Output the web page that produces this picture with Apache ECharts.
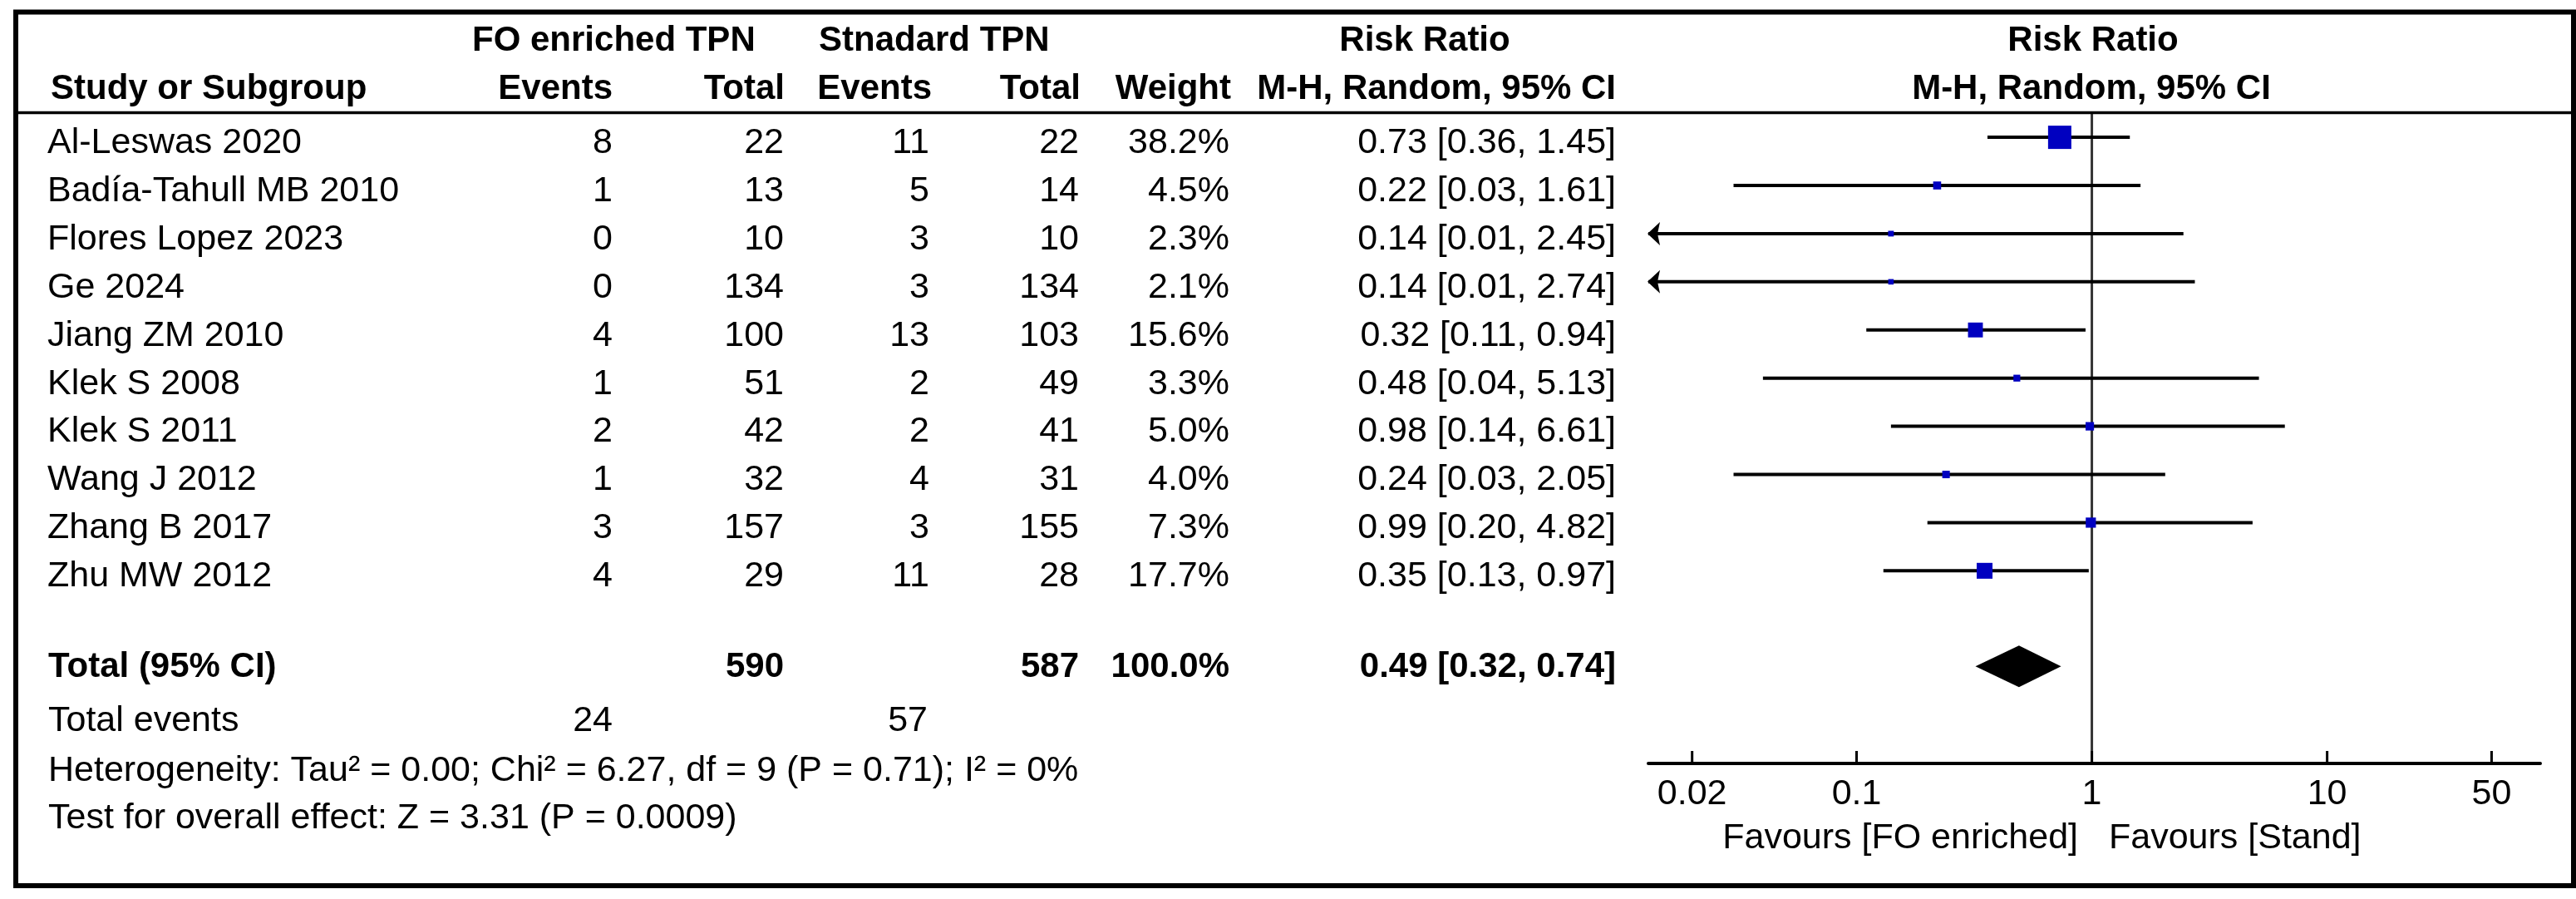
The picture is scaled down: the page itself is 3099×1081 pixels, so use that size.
<!DOCTYPE html>
<html><head><meta charset="utf-8">
<script src="https://cdn.jsdelivr.net/npm/echarts@6/dist/echarts.min.js"></script>
<style>html,body{margin:0;padding:0;background:#fff}#c{width:3099px;height:1081px}</style>
</head><body><div id="c"></div>
<script>
// ---- data ----
const studies = ['Al-Leswas 2020', 'Badía-Tahull MB 2010', 'Flores Lopez 2023', 'Ge 2024', 'Jiang ZM 2010', 'Klek S 2008', 'Klek S 2011', 'Wang J 2012', 'Zhang B 2017', 'Zhu MW 2012'];
const foEvents = [8, 1, 0, 0, 4, 1, 2, 1, 3, 4];
const foTotal = [22, 13, 10, 134, 100, 51, 42, 32, 157, 29];
const stdEvents = [11, 5, 3, 3, 13, 2, 2, 4, 3, 11];
const stdTotal = [22, 14, 10, 134, 103, 49, 41, 31, 155, 28];
const weights = [38.2, 4.5, 2.3, 2.1, 15.6, 3.3, 5.0, 4.0, 7.3, 17.7];
const riskRatio = [0.73, 0.22, 0.14, 0.14, 0.32, 0.48, 0.98, 0.24, 0.99, 0.35];
const ciLow = [0.36, 0.03, 0.01, 0.01, 0.11, 0.04, 0.14, 0.03, 0.20, 0.13];
const ciHigh = [1.45, 1.61, 2.45, 2.74, 0.94, 5.13, 6.61, 2.05, 4.82, 0.97];
const totalRR = [0.49, 0.32, 0.74];
const totalN = [590, 587];
const totalEvents = [24, 57];
const totalWeight = [100.0];
const xTicks = [0.02, 0.1, 1, 10, 50];
const xTickLabels = ['0.02', '0.1', '1', '10', '50'];

// ---- styling / layout ----
const FONT = '"Liberation Sans", Arial, Helvetica, sans-serif';
const FS = 43;
const FSB = 42;
const AX_MIN = 0.01303, AX_MAX = 80.5;
const COL = { study: 57, foEv: 737, foTot: 943, stEv: 1118, stTot: 1298, wt: 1479, ci: 1944 };

function txt(x, y, s, align, bold) {
  return { type: 'text', silent: true, style: {
    x: x, y: y, text: s, fill: '#000', fontSize: bold ? FSB : FS, fontFamily: FONT,
    fontWeight: bold ? 'bold' : 'normal', align: align, verticalAlign: 'middle',
    textAlign: align, textVerticalAlign: 'middle' } };
}
const f2 = v => v.toFixed(2);

const chart = echarts.init(document.getElementById('c'), null, { renderer: 'canvas', width: 3099, height: 1081 });

const rowData = studies.map((s, i) => [riskRatio[i], i, ciLow[i], ciHigh[i], weights[i]]);

const option = {
  animation: false,
  backgroundColor: '#fff',
  grid: { left: 1983, top: 135, width: 1073, height: 783, containLabel: false },
  xAxis: {
    type: 'log', logBase: 10, min: AX_MIN, max: AX_MAX,
    axisLine: { show: true, onZero: false, lineStyle: { color: '#000', width: 4 } },
    axisTick: { show: false }, axisLabel: { show: false }, splitLine: { show: false }
  },
  yAxis: { type: 'value', inverse: true, min: -0.52, max: 13, show: false },
  series: [
    { // reference line at RR = 1
      type: 'custom', coordinateSystem: 'cartesian2d', silent: true, z: 2,
      data: [[1, 0]],
      renderItem: (p, api) => {
        const a = api.coord([1, -0.52]), b = api.coord([1, 13]);
        return { type: 'line', shape: { x1: a[0], y1: a[1], x2: b[0], y2: b[1] }, style: { stroke: '#333', lineWidth: 3 } };
      }
    },
    { // study CIs and squares
      type: 'custom', coordinateSystem: 'cartesian2d', silent: true, z: 3,
      encode: { x: 0, y: 1 },
      data: rowData,
      renderItem: (p, api) => {
        const row = api.value(1);
        const y = api.coord([1, row])[1];
        const xc = api.coord([api.value(0), row])[0];
        const lo = api.value(2), hi = api.value(3), w = api.value(4);
        const clipLo = lo < AX_MIN, clipHi = hi > AX_MAX;
        const xl = api.coord([clipLo ? AX_MIN : lo, row])[0];
        const xh = api.coord([clipHi ? AX_MAX : hi, row])[0];
        const side = 4.53 * Math.sqrt(w);
        const ch = [
          { type: 'line', shape: { x1: xl, y1: y, x2: xh, y2: y }, style: { stroke: '#000', lineWidth: 4 } }
        ];
        if (clipLo) ch.push({ type: 'polygon', shape: { points: [[xl - 1, y], [xl + 14, y - 14], [xl + 11, y], [xl + 14, y + 14]] }, style: { fill: '#000' } });
        ch.push({ type: 'rect', shape: { x: xc - side / 2, y: y - side / 2, width: side, height: side }, style: { fill: '#0000C0' } });
        return { type: 'group', children: ch };
      }
    },
    { // pooled diamond
      type: 'custom', coordinateSystem: 'cartesian2d', silent: true, z: 3,
      encode: { x: 0, y: 1 },
      data: [[totalRR[0], 11, totalRR[1], totalRR[2]]],
      renderItem: (p, api) => {
        const row = api.value(1);
        const c = api.coord([api.value(0), row]);
        const xl = api.coord([api.value(2), row])[0];
        const xh = api.coord([api.value(3), row])[0];
        const y = c[1] - 1;
        return { type: 'polygon', shape: { points: [[xl, y], [c[0], y - 25], [xh, y], [c[0], y + 25]] }, style: { fill: '#000' } };
      }
    },
    { // axis ticks and labels
      type: 'custom', coordinateSystem: 'cartesian2d', silent: true, z: 4,
      encode: { x: 0, y: 1 },
      data: xTicks.map(v => [v, 13]),
      renderItem: (p, api) => {
        const c = api.coord([api.value(0), 13]);
        return { type: 'group', children: [
          { type: 'line', shape: { x1: c[0], y1: c[1] - 15, x2: c[0], y2: c[1] }, style: { stroke: '#000', lineWidth: 3 } },
          txt(c[0], c[1] + 37, xTickLabels[p.dataIndex], 'center', false)
        ] };
      }
    },
    { // table rows
      type: 'custom', coordinateSystem: 'cartesian2d', silent: true, z: 4,
      encode: { x: 0, y: 1 },
      data: studies.map((s, i) => [1, i]),
      renderItem: (p, api) => {
        const i = p.dataIndex;
        const y = api.coord([1, api.value(1)])[1] + 7;
        return { type: 'group', children: [
          txt(COL.study, y, studies[i], 'left', false),
          txt(COL.foEv, y, String(foEvents[i]), 'right', false),
          txt(COL.foTot, y, String(foTotal[i]), 'right', false),
          txt(COL.stEv, y, String(stdEvents[i]), 'right', false),
          txt(COL.stTot, y, String(stdTotal[i]), 'right', false),
          txt(COL.wt, y, weights[i].toFixed(1) + '%', 'right', false),
          txt(COL.ci, y, f2(riskRatio[i]) + ' [' + f2(ciLow[i]) + ', ' + f2(ciHigh[i]) + ']', 'right', false)
        ] };
      }
    },
    { // totals
      type: 'custom', coordinateSystem: 'cartesian2d', silent: true, z: 4,
      encode: { x: 0, y: 1 },
      data: [[1, 11]],
      renderItem: (p, api) => {
        const y = api.coord([1, 11])[1];
        const y2 = api.coord([1, 12])[1] + 7;
        return { type: 'group', children: [
          txt(COL.study + 1, y, 'Total (95% CI)', 'left', true),
          txt(COL.foTot, y, String(totalN[0]), 'right', true),
          txt(COL.stTot, y, String(totalN[1]), 'right', true),
          txt(COL.wt, y, totalWeight[0].toFixed(1) + '%', 'right', true),
          txt(COL.ci, y, f2(totalRR[0]) + ' [' + f2(totalRR[1]) + ', ' + f2(totalRR[2]) + ']', 'right', true),
          txt(COL.study + 1, y2, 'Total events', 'left', false),
          txt(COL.foEv, y2, String(totalEvents[0]), 'right', false),
          txt(COL.stEv - 2, y2, String(totalEvents[1]), 'right', false)
        ] };
      }
    }
  ],
  graphic: { elements: [
    { type: 'rect', silent: true, z: 10, shape: { x: 19, y: 14.5, width: 3077, height: 1050.5 }, style: { fill: 'none', stroke: '#000', lineWidth: 6 } },
    { type: 'line', silent: true, z: 10, shape: { x1: 19, y1: 135.5, x2: 3096, y2: 135.5 }, style: { stroke: '#000', lineWidth: 3.5 } },
    txt(568, 49, 'FO enriched TPN', 'left', true),
    txt(985, 49, 'Stnadard TPN', 'left', true),
    txt(1714, 49, 'Risk Ratio', 'center', true),
    txt(2518, 49, 'Risk Ratio', 'center', true),
    txt(61, 107, 'Study or Subgroup', 'left', true),
    txt(737, 107, 'Events', 'right', true),
    txt(944, 107, 'Total', 'right', true),
    txt(1121, 107, 'Events', 'right', true),
    txt(1300, 107, 'Total', 'right', true),
    txt(1481, 107, 'Weight', 'right', true),
    txt(1944, 107, 'M-H, Random, 95% CI', 'right', true),
    txt(2516, 107, 'M-H, Random, 95% CI', 'center', true),
    txt(58, 927, 'Heterogeneity: Tau² = 0.00; Chi² = 6.27, df = 9 (P = 0.71); I² = 0%', 'left', false),
    txt(58, 984, 'Test for overall effect: Z = 3.31 (P = 0.0009)', 'left', false),
    txt(2500, 1008, 'Favours [FO enriched]', 'right', false),
    txt(2537, 1008, 'Favours [Stand]', 'left', false)
  ] }
};
chart.setOption(option);
</script>
</body></html>
